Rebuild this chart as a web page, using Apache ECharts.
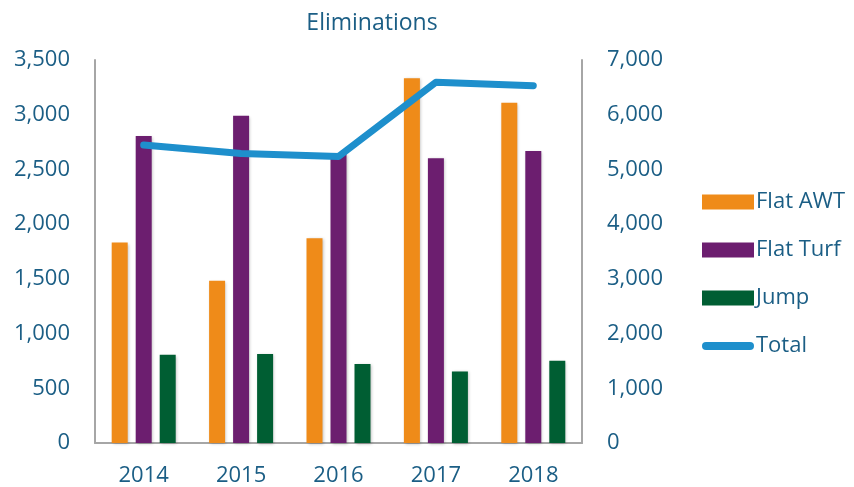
<!DOCTYPE html>
<html>
<head>
<meta charset="utf-8">
<script src="https://cdn.jsdelivr.net/npm/echarts@6/dist/echarts.min.js"></script>
<style>
  html, body { margin: 0; padding: 0; background: #fff; }
  #chart { width: 854px; height: 487px; }
</style>
</head>
<body>
<div id="chart"></div>
<script>
// data
var years = ['2014', '2015', '2016', '2017', '2018'];
var flatAwt = [1832, 1482, 1872, 3333, 3110];
var flatTurf = [2806, 2991, 2640, 2602, 2669];
var jump = [806, 813, 721, 654, 752];
var total = [5445, 5290, 5235, 6595, 6530];
var leftTicks = [0, 3500, 500];   // min, max, step
var rightTicks = [0, 7000, 1000];

var textColor = '#1b5e85';
var axisColor = '#a6a6a6';
var font = 'Open Sans';

var chart = echarts.init(document.getElementById('chart'));

// bar shadow like the office chart
var barShadow = {
  shadowColor: 'rgba(0,0,0,0.25)',
  shadowBlur: 3,
  shadowOffsetX: 1,
  shadowOffsetY: 1
};

function bar(name, data, color) {
  return {
    name: name,
    type: 'bar',
    data: data,
    barWidth: 16,
    barGap: '50%',
    itemStyle: Object.assign({ color: color }, barShadow)
  };
}

var option = {
  animation: false,
  title: {
    text: 'Eliminations',
    left: 367,
    top: 7,
    textAlign: 'center',
    textStyle: { color: textColor, fontFamily: font, fontSize: 23, fontWeight: 'normal' }
  },
  legend: {
    orient: 'vertical',
    left: 697,
    top: 186,
    itemWidth: 52,
    itemHeight: 15,
    itemGap: 26,
    textStyle: { color: textColor, fontFamily: font, fontSize: 22, lineHeight: 22, padding: [0, 0, 0, -3] },
    data: [
      { name: 'Flat AWT', icon: 'rect' },
      { name: 'Flat Turf', icon: 'rect' },
      { name: 'Jump', icon: 'rect' },
      { name: 'Total', icon: 'path://M4,0 L48,0 A4,4 0 0 1 48,8 L4,8 A4,4 0 0 1 4,0 Z' }
    ]
  },
  grid: { left: 95, right: 272, top: 60, bottom: 44 },
  xAxis: {
    type: 'category',
    data: years,
    axisLine: { lineStyle: { color: axisColor, width: 2 } },
    axisTick: { show: false },
    axisLabel: { color: textColor, fontFamily: font, fontSize: 22, margin: 22 }
  },
  yAxis: [
    {
      type: 'value',
      min: leftTicks[0], max: leftTicks[1], interval: leftTicks[2],
      axisLine: { show: true, lineStyle: { color: axisColor, width: 2 } },
      axisTick: { show: false },
      splitLine: { show: false },
      axisLabel: {
        color: textColor, fontFamily: font, fontSize: 22, margin: 25,
        formatter: function (v) { return v.toLocaleString('en-US'); }
      }
    },
    {
      type: 'value',
      min: rightTicks[0], max: rightTicks[1], interval: rightTicks[2],
      axisLine: { show: true, lineStyle: { color: axisColor, width: 2 } },
      axisTick: { show: false },
      splitLine: { show: false },
      axisLabel: {
        color: textColor, fontFamily: font, fontSize: 22, margin: 25,
        formatter: function (v) { return v.toLocaleString('en-US'); }
      }
    }
  ],
  series: [
    bar('Flat AWT', flatAwt, '#ef8b19'),
    bar('Flat Turf', flatTurf, '#6c1e6f'),
    bar('Jump', jump, '#005e33'),
    {
      name: 'Total',
      type: 'line',
      yAxisIndex: 1,
      data: total,
      symbol: 'none',
      itemStyle: { color: '#1e8fcc' },
      lineStyle: { color: '#1e8fcc', width: 7, cap: 'round', join: 'round' },
      z: 5
    }
  ]
};

chart.setOption(option);
</script>
</body>
</html>
